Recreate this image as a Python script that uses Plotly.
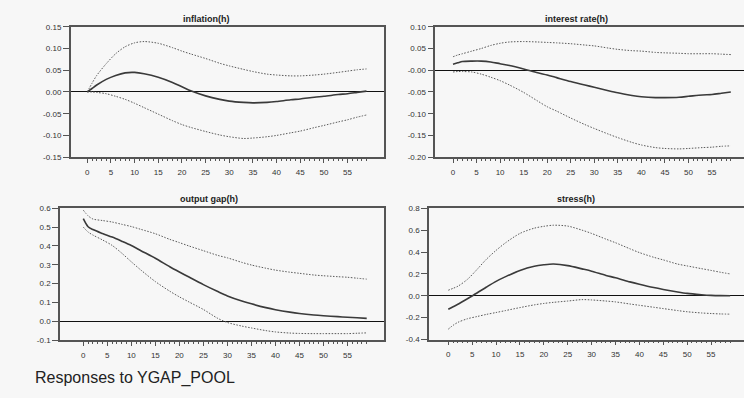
import plotly.graph_objects as go

W, H = 744, 398

horizon = [0, 1, 2, 4, 6, 8, 10, 12, 15, 18, 20, 22, 25, 28, 30, 33, 35, 38, 40, 43, 45, 48, 50, 53, 55, 57, 59]

inflation_mid = [0.0, 0.008, 0.016, 0.029, 0.038, 0.044, 0.045, 0.042, 0.034, 0.022, 0.012, 0.002, -0.009, -0.017,
                 -0.021, -0.024, -0.025, -0.024, -0.022, -0.018, -0.016, -0.012, -0.010, -0.006, -0.004, -0.001, 0.002]
inflation_up = [0.0, 0.02, 0.038, 0.065, 0.088, 0.104, 0.113, 0.116, 0.112, 0.102, 0.094, 0.087, 0.077, 0.066,
                0.060, 0.052, 0.047, 0.041, 0.039, 0.037, 0.037, 0.039, 0.041, 0.045, 0.048, 0.051, 0.053]
inflation_lo = [0.0, 0.0, -0.001, -0.004, -0.010, -0.017, -0.026, -0.036, -0.051, -0.066, -0.075, -0.082, -0.091,
                -0.099, -0.103, -0.107, -0.106, -0.103, -0.100, -0.094, -0.090, -0.082, -0.077, -0.069, -0.064,
                -0.058, -0.053]

interest_mid = [0.014, 0.017, 0.020, 0.021, 0.021, 0.019, 0.015, 0.011, 0.003, -0.006, -0.011, -0.017, -0.026,
                -0.034, -0.039, -0.047, -0.052, -0.058, -0.061, -0.063, -0.063, -0.062, -0.060, -0.057, -0.056,
                -0.053, -0.050]
interest_up = [0.031, 0.035, 0.038, 0.044, 0.050, 0.057, 0.062, 0.065, 0.066, 0.065, 0.064, 0.063, 0.061, 0.058,
               0.056, 0.051, 0.048, 0.045, 0.044, 0.041, 0.040, 0.039, 0.038, 0.038, 0.038, 0.037, 0.036]
interest_lo = [-0.004, -0.003, -0.003, -0.004, -0.009, -0.016, -0.024, -0.034, -0.051, -0.071, -0.084, -0.094,
               -0.110, -0.125, -0.134, -0.147, -0.155, -0.166, -0.172, -0.178, -0.180, -0.181, -0.180, -0.178,
               -0.177, -0.175, -0.174]

outgap_mid = [0.545, 0.502, 0.487, 0.466, 0.447, 0.425, 0.402, 0.375, 0.335, 0.290, 0.262, 0.235, 0.195, 0.158,
              0.135, 0.108, 0.093, 0.073, 0.062, 0.049, 0.042, 0.034, 0.030, 0.025, 0.022, 0.019, 0.016]
outgap_up = [0.59, 0.56, 0.543, 0.535, 0.527, 0.515, 0.503, 0.488, 0.465, 0.435, 0.418, 0.400, 0.375, 0.350,
             0.337, 0.313, 0.299, 0.282, 0.272, 0.261, 0.255, 0.246, 0.242, 0.237, 0.234, 0.229, 0.224]
outgap_lo = [0.50, 0.474, 0.458, 0.432, 0.403, 0.362, 0.316, 0.272, 0.211, 0.160, 0.130, 0.103, 0.063, 0.016,
             -0.006, -0.025, -0.035, -0.049, -0.056, -0.062, -0.064, -0.065, -0.065, -0.065, -0.065, -0.063, -0.061]

stress_mid = [-0.123, -0.10, -0.078, -0.027, 0.025, 0.080, 0.132, 0.175, 0.232, 0.270, 0.283, 0.290, 0.276, 0.246,
              0.225, 0.186, 0.165, 0.127, 0.105, 0.075, 0.058, 0.035, 0.022, 0.010, 0.004, 0.001, 0.0]
stress_up = [0.051, 0.068, 0.087, 0.150, 0.240, 0.335, 0.415, 0.485, 0.570, 0.618, 0.635, 0.645, 0.637, 0.600,
             0.570, 0.518, 0.485, 0.430, 0.395, 0.352, 0.328, 0.290, 0.273, 0.248, 0.232, 0.215, 0.200]
stress_lo = [-0.305, -0.27, -0.243, -0.21, -0.19, -0.17, -0.153, -0.135, -0.108, -0.083, -0.070, -0.060, -0.048,
             -0.035, -0.038, -0.048, -0.056, -0.075, -0.087, -0.105, -0.117, -0.135, -0.146, -0.157, -0.162,
             -0.166, -0.168]

titles = ["inflation(h)", "interest rate(h)", "output gap(h)", "stress(h)"]
footer = "Responses to YGAP_POOL"

x_major = list(range(0, 60, 5))
x_minor = list(range(0, 60))

yticks_inflation = [-0.15, -0.10, -0.05, 0.0, 0.05, 0.10, 0.15]
ylabels_inflation = ["-0.15", "-0.10", "-0.05", "0.00", "0.05", "0.10", "0.15"]
yticks_interest = [-0.20, -0.15, -0.10, -0.05, 0.0, 0.05, 0.10]
ylabels_interest = ["-0.20", "-0.15", "-0.10", "-0.05", "-0.00", "0.05", "0.10"]
yticks_outgap = [-0.1, 0.0, 0.1, 0.2, 0.3, 0.4, 0.5, 0.6]
ylabels_outgap = ["-0.1", "0.0", "0.1", "0.2", "0.3", "0.4", "0.5", "0.6"]
yticks_stress = [-0.4, -0.2, 0.0, 0.2, 0.4, 0.6, 0.8]
ylabels_stress = ["-0.4", "-0.2", "0.0", "0.2", "0.4", "0.6", "0.8"]

# layout in pixels: (left, right, top, bottom), x range, y range
panels = [
    dict(px=(70.7, 384, 23.3, 156.7), xr=[-3.5, 62.7], yr=[-0.15, 0.15],
         yt=yticks_inflation, yl=ylabels_inflation, series=(inflation_mid, inflation_up, inflation_lo),
         title_xy=(207, 15), mirror=True),
    dict(px=(435.3, 744, 23.3, 156.7), xr=[-3.76, 61.8], yr=[-0.20, 0.10],
         yt=yticks_interest, yl=ylabels_interest, series=(interest_mid, interest_up, interest_lo),
         title_xy=(576, 15), mirror=False),
    dict(px=(60, 384, 209, 344), xr=[-4.85, 62.6], yr=[-0.1, 0.6],
         yt=yticks_outgap, yl=ylabels_outgap, series=(outgap_mid, outgap_up, outgap_lo),
         title_xy=(209, 200), mirror=True),
    dict(px=(429, 744, 209, 343.3), xr=[-4.04, 61.9], yr=[-0.4, 0.8],
         yt=yticks_stress, yl=ylabels_stress, series=(stress_mid, stress_up, stress_lo),
         title_xy=(576, 200), mirror=False),
]

FONT = "Liberation Sans, Arial, sans-serif"
BG = "#f7f7f7"
FRAME = "#555555"

fig = go.Figure()
annotations = []
for i, p in enumerate(panels, start=1):
    sfx = "" if i == 1 else str(i)
    l, r, t, b = p["px"]
    mid, up, lo = p["series"]
    for vals, dash, width, color in ((up, "1.5px,1.5px", 1, "#5a5a5a"),
                                     (lo, "1.5px,1.5px", 1, "#5a5a5a"),
                                     (mid, "solid", 1.6, "#3a3a3a")):
        fig.add_trace(go.Scatter(x=horizon, y=vals, mode="lines", xaxis="x" + sfx, yaxis="y" + sfx,
                                 line=dict(color=color, width=width, dash=dash, shape="spline", smoothing=0.8),
                                 showlegend=False, hoverinfo="skip"))
    fig.layout["xaxis" + sfx] = dict(
        domain=[l / W, min(r / W, 1.0)], anchor="y" + sfx, range=p["xr"],
        tickmode="array", tickvals=x_major, ticktext=[str(v) for v in x_major],
        ticks="outside", ticklen=4, tickwidth=1, tickcolor=FRAME,
        minor=dict(tickvals=x_minor, ticks="outside", ticklen=2, tickwidth=1, tickcolor=FRAME),
        showline=True, linecolor=FRAME, linewidth=1.5, mirror=True,
        showgrid=False, zeroline=False, fixedrange=True,
        tickfont=dict(family=FONT, size=8, color="#333333"), ticklabelstandoff=2,
    )
    fig.layout["yaxis" + sfx] = dict(
        domain=[1 - b / H, 1 - t / H], anchor="x" + sfx, range=p["yr"],
        tickmode="array", tickvals=p["yt"], ticktext=p["yl"],
        ticks="outside", ticklen=6, tickwidth=1, tickcolor=FRAME,
        showline=True, linecolor=FRAME, linewidth=1.5, mirror=p["mirror"],
        showgrid=False, zeroline=True, zerolinecolor="#111111", zerolinewidth=1,
        fixedrange=True, tickfont=dict(family=FONT, size=8, color="#333333"),
    )
    tx, ty = p["title_xy"]
    annotations.append(dict(text="<b>%s</b>" % titles[i - 1], x=tx / W, y=1 - ty / H, xref="paper", yref="paper",
                            xanchor="center", yanchor="middle", showarrow=False,
                            font=dict(family=FONT, size=9, color="#222222")))

annotations.append(dict(text=footer, x=33 / W, y=1 - 382.5 / H, xref="paper", yref="paper",
                        xanchor="left", yanchor="middle", showarrow=False,
                        font=dict(family=FONT, size=16, color="#222222")))

fig.update_layout(width=W, height=H, margin=dict(l=0, r=0, t=0, b=0), paper_bgcolor=BG, plot_bgcolor=BG,
                  annotations=annotations, showlegend=False)

fig.write_html("out.html", config={"displayModeBar": False})
